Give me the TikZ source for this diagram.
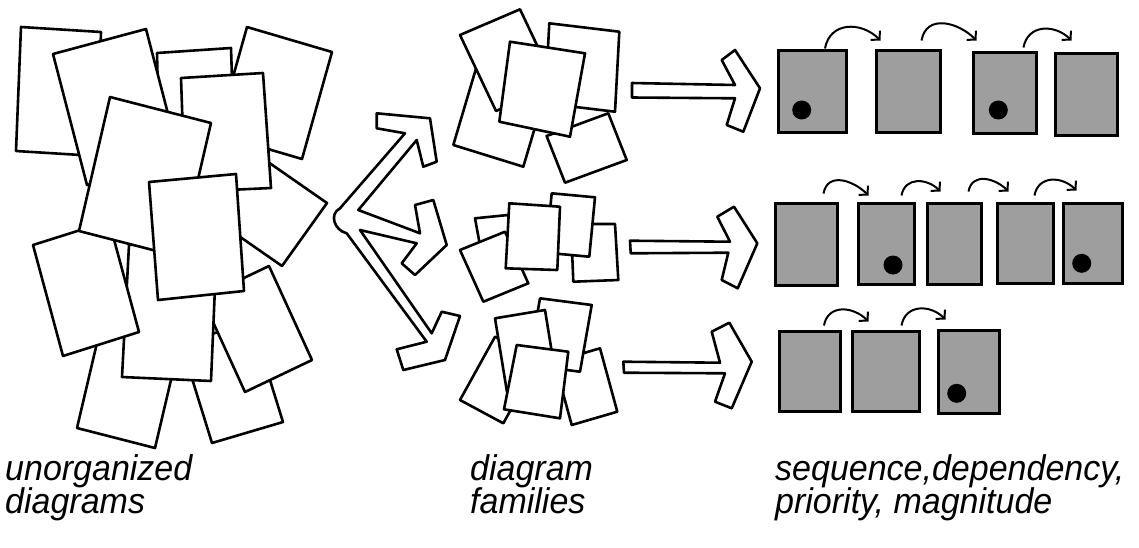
\documentclass[tikz,border=0pt]{standalone}
\usepackage{fontspec}
\setmainfont{Liberation Sans}
\usetikzlibrary{arrows.meta}
\newfontfamily\handfont{Liberation Sans}
\newcommand{\tallt}[1]{\scalebox{1.0}[1.05]{#1}}
\begin{document}
\begin{tikzpicture}[x=1pt,y=-1pt,
  paper/.style={draw=black, fill=white, line width=2.6pt, line join=round},
  hollow/.style={draw=black, fill=white, line width=2.6pt, line join=round},
  sbox/.style={draw=black, fill=black!38, line width=3pt, rectangle, inner sep=0pt},
  dotmark/.style={circle, fill=black, inner sep=0pt, minimum size=19pt},
  carrow/.style={line width=2pt, looseness=1.25, -{Straight Barb[length=6pt,width=13pt,line width=2pt]}},
  lbl/.style={anchor=base west, inner sep=0pt, font=\handfont\itshape\fontsize{34}{34}\selectfont}]
\useasboundingbox (0,0) rectangle (1139,547);

% ---------- unorganized pile ----------
\draw[paper] (100,330) -- (178,350) -- (155,448) -- (77,428) -- cycle;        % L
\draw[paper] (181,343) -- (252,322) -- (283,422) -- (212,443) -- cycle;       % M
\draw[paper] (21,27) -- (101,32) -- (97,156) -- (16,151) -- cycle;            % A
\draw[paper] (157,53) -- (231,48) -- (235,170) -- (160,175) -- cycle;         % C
\draw[paper] (247,27) -- (332,52) -- (302,159) -- (217,134) -- cycle;         % D
\draw[paper] (245,146) -- (327,203) -- (282,266) -- (200,209) -- cycle;       % H
\draw[paper] (53,54) -- (146,29) -- (180,160) -- (87,185) -- cycle;           % B
\draw[paper] (181,78) -- (263,73) -- (271,188) -- (185,192) -- cycle;         % E
\draw[paper] (202,298) -- (269,266) -- (312,360) -- (245,392) -- cycle;       % K
\draw[paper] (129,245) -- (217,240) -- (211,381) -- (122,377) -- cycle;       % J
\draw[paper] (33,245) -- (109,221) -- (139,332) -- (63,356) -- cycle;         % I
\draw[paper] (110,97) -- (211,123) -- (180,257) -- (79,231) -- cycle;         % F
\draw[paper] (149,182) -- (236,174) -- (244,291) -- (158,300) -- cycle;       % G

% ---------- branching arrow ----------
\draw[hollow] (340,208.3) -- (405,133.3) -- (376.7,128.3) -- (376.7,113.3) -- (430,118.3)
  -- (436.7,161.7) -- (423.3,166.7) -- (416.7,140) -- (358.3,210)
  -- (420,233.3) -- (415,205) -- (433.3,200) -- (446.7,245) -- (415,275) -- (401.7,263.3)
  -- (416.7,243.3) -- (360,230)
  -- (431.7,333.3) -- (441.7,311.7) -- (460,316) -- (445,360) -- (403.3,370) -- (396.7,349.3)
  -- (426.7,341.7) -- (346.7,233.3)
  .. controls (334,230) and (329,214) .. (340,208.3) -- cycle;

% ---------- diagram families ----------
% top pile
\draw[paper] (480,55) -- (550,76.7) -- (523.3,166.7) -- (453.3,145) -- cycle;
\draw[paper] (546.6,136) -- (608.3,113.3) -- (626.7,160) -- (565,182.7) -- cycle;
\draw[paper] (549.3,23.3) -- (619.3,31.7) -- (615,111.7) -- (545,103.3) -- cycle;
\draw[paper] (460,35) -- (520,9.3) -- (556,85.3) -- (496,111) -- cycle;
\draw[paper] (510,41.7) -- (585,53.3) -- (570,136.7) -- (499.3,121.7) -- cycle;
% middle pile
\draw[paper] (475,218.3) -- (508,215) -- (514,248) -- (481,251) -- cycle;
\draw[paper] (460,250) -- (505,231.7) -- (528.3,283.3) -- (483.3,301.7) -- cycle;
\draw[paper] (571,224) -- (615,224) -- (618.3,280) -- (573.3,281.7) -- cycle;
\draw[paper] (551.7,193.3) -- (595,197.3) -- (589.3,256.7) -- (546,252.7) -- cycle;
\draw[paper] (509.3,203.3) -- (560,206.7) -- (557.3,270) -- (505.7,268.3) -- cycle;
% bottom pile
\draw[paper] (554.4,361.6) -- (600,348.3) -- (617.3,411.7) -- (571.7,425) -- cycle;
\draw[paper] (540,298.3) -- (591.7,305) -- (580,371.7) -- (528.3,365) -- cycle;
\draw[paper] (495,336.7) -- (538.3,360) -- (503.3,423.3) -- (460,400) -- cycle;
\draw[paper] (495,318.3) -- (545,310) -- (557,384) -- (507,392) -- cycle;
\draw[paper] (516.7,345) -- (568.3,351.7) -- (560,418.3) -- (504,409.3) -- cycle;

% ---------- hollow arrows ----------
\draw[hollow] (632,83) -- (735,85) -- (721.7,60) -- (735,50) -- (760,88.3) -- (743.3,131.7)
  -- (726.7,125) -- (735,98.3) -- (632,97.5) -- cycle;
\draw[hollow] (630,240.7) -- (730,241.7) -- (717.3,216.7) -- (734,206.7) -- (757.3,243.3)
  -- (737.7,288.3) -- (721.7,280) -- (728.3,252.7) -- (630.7,253.3) -- cycle;
\draw[hollow] (623.3,361.7) -- (720,362.7) -- (711.7,331.7) -- (729.3,322.7) -- (751.7,361.7)
  -- (731.7,408.3) -- (715,401.7) -- (725,373.3) -- (624,372.7) -- cycle;

% ---------- shaded boxes ----------
\node[sbox, minimum width=68pt, minimum height=82pt] (b1) at (812,91) {};
\node[sbox, minimum width=64pt, minimum height=82pt] (b2) at (908,91) {};
\node[sbox, minimum width=63pt, minimum height=81pt] (b3) at (1004.5,92.5) {};
\node[sbox, minimum width=62pt, minimum height=82pt] (b4) at (1086,94) {};
\node[dotmark] (b1dot) at (801.7,110) {};
\node[dotmark] (b3dot) at (998.3,110) {};

\node[sbox, minimum width=62pt, minimum height=82pt] (c1) at (806,244) {};
\node[sbox, minimum width=56pt, minimum height=81pt] (c2) at (886,243.5) {};
\node[sbox, minimum width=54pt, minimum height=81pt] (c3) at (954,243.5) {};
\node[sbox, minimum width=56pt, minimum height=80pt] (c4) at (1025,243) {};
\node[sbox, minimum width=59pt, minimum height=80pt] (c5) at (1092.5,243) {};
\node[dotmark] (c2dot) at (893,265) {};
\node[dotmark] (c5dot) at (1081.7,263.3) {};

\node[sbox, minimum width=61pt, minimum height=80pt] (d1) at (810,371) {};
\node[sbox, minimum width=67pt, minimum height=80pt] (d2) at (885.5,371) {};
\node[sbox, minimum width=61pt, minimum height=83pt] (d3) at (968.5,371.5) {};
\node[dotmark] (d3dot) at (956.7,393.3) {};

% ---------- curved arrows ----------
\draw[carrow] ([xshift=13pt]b1.north) to[out=80,in=135] ([xshift=6pt,yshift=8pt]b2.north west);
\draw[carrow] ([xshift=-20pt,yshift=8pt]b2.north east) to[out=80,in=135] ([xshift=5pt,yshift=10pt]b3.north west);
\draw[carrow] ([xshift=-14pt,yshift=3pt]b3.north east) to[out=80,in=135] ([xshift=18pt,yshift=11pt]b4.north west);

\draw[carrow] ([xshift=-15pt,yshift=8pt]c1.north east) to[out=80,in=135] ([xshift=12pt,yshift=6pt]c2.north west);
\draw[carrow] ([xshift=-14pt,yshift=6pt]c2.north east) to[out=80,in=135] ([xshift=15pt,yshift=10pt]c3.north west);
\draw[carrow] ([xshift=-14pt,yshift=10pt]c3.north east) to[out=80,in=135] ([xshift=13pt,yshift=10pt]c4.north west);
\draw[carrow] ([xshift=-20pt,yshift=6pt]c4.north east) to[out=80,in=135] ([xshift=15pt,yshift=11pt]c5.north west);

\draw[carrow] ([xshift=-18pt,yshift=4pt]d1.north east) to[out=80,in=135] ([xshift=18pt,yshift=8pt]d2.north west);
\draw[carrow] ([xshift=-19pt,yshift=4pt]d2.north east) to[out=80,in=135] ([xshift=9pt,yshift=9pt]d3.north west);

% ---------- labels ----------
\node[lbl] (l1a) at (5,480) {\tallt{unorganized}};
\node[lbl] (l1b) at (5,513) {\tallt{diagrams}};
\node[lbl] (l2a) at (470,480) {\tallt{diagram}};
\node[lbl] (l2b) at (470,513) {\tallt{families}};
\node[lbl] (l3a) at (775,480) {\tallt{sequence,dependency,}};
\node[lbl] (l3b) at (775,513) {\tallt{priority, magnitude}};
\end{tikzpicture}
\end{document}
